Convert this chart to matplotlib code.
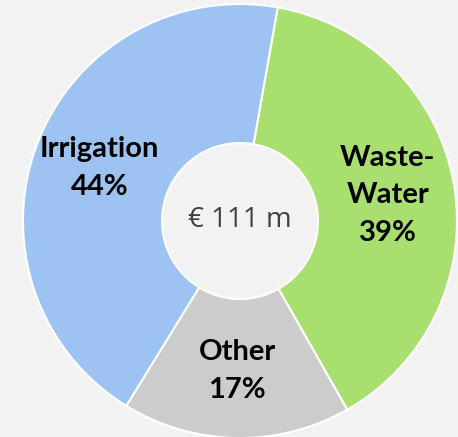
import matplotlib.pyplot as plt

categories = ["Waste-\nWater", "Other", "Irrigation"]
shares = [39, 17, 44]
colors = ["#A9DF6F", "#CCCCCC", "#9CC3F1"]
total_label = "€ 111 m"

bg = "#F2F2F2"
fig = plt.figure(figsize=(4.58, 4.37), dpi=100, facecolor=bg)
ax = fig.add_axes([0, 0, 1, 1])
ax.set_facecolor(bg)

# pixel-like coordinates, y up
cx, cy, r, hole = 240, 437 - 221, 217, 78
labels = [f"{c}\n{v}%" for c, v in zip(categories, shares)]
wedges, texts = ax.pie(shares, labels=labels, colors=colors, startangle=80,
                       counterclock=False, center=(cx, cy), radius=r,
                       labeldistance=150 / r,
                       wedgeprops=dict(width=r - hole, edgecolor="white", linewidth=1.5))
for t in texts:
    t.set_ha("center")
    t.set_va("center")
    t.set_fontsize(21)
    t.set_fontweight("bold")
    t.set_family("Lato")
    t.set_linespacing(1.55)

ax.text(cx, cy + 1, total_label, ha="center", va="center", fontsize=20,
        color="#404040", family="Open Sans")

ax.set_xlim(0, 458)
ax.set_ylim(0, 437)
ax.set_aspect("equal")
ax.axis("off")

fig.savefig("out.png", dpi=100, facecolor=bg)
